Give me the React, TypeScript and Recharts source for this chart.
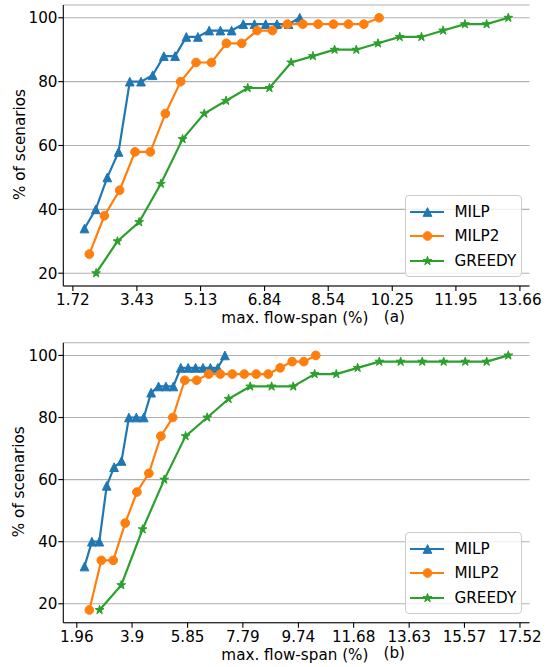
import React from "react";
import {
  LineChart,
  Line,
  XAxis,
  YAxis,
  CartesianGrid,
  Legend,
} from "recharts";

// panel (a)
const milpAx = [2.03, 2.33, 2.64, 2.94, 3.24, 3.54, 3.85, 4.15, 4.45, 4.75, 5.06, 5.36, 5.66, 5.96, 6.27, 6.57, 6.87, 7.17, 7.48, 7.78];
const milpAy = [34, 40, 50, 58, 80, 80, 82, 88, 88, 94, 94, 96, 96, 96, 98, 98, 98, 98, 98, 100];
const milp2Ax = [2.16, 2.56, 2.97, 3.38, 3.79, 4.19, 4.6, 5.01, 5.42, 5.82, 6.23, 6.64, 7.05, 7.45, 7.86, 8.27, 8.68, 9.08, 9.49, 9.9];
const milp2Ay = [26, 38, 46, 58, 58, 70, 80, 86, 86, 92, 92, 96, 96, 98, 98, 98, 98, 98, 98, 100];
const greedyAx = [2.34, 2.91, 3.49, 4.07, 4.65, 5.23, 5.81, 6.39, 6.97, 7.55, 8.13, 8.71, 9.29, 9.87, 10.45, 11.03, 11.61, 12.19, 12.77, 13.35];
const greedyAy = [20, 30, 36, 48, 62, 70, 74, 78, 78, 86, 88, 90, 90, 92, 94, 94, 96, 98, 98, 100];
const ticksA = [1.72, 3.43, 5.13, 6.84, 8.54, 10.25, 11.95, 13.66];

// panel (b)
const milpBx = [2.23, 2.49, 2.75, 3.01, 3.27, 3.53, 3.79, 4.05, 4.31, 4.57, 4.83, 5.09, 5.35, 5.61, 5.87, 6.13, 6.39, 6.65, 6.91, 7.16];
const milpBy = [32, 40, 40, 58, 64, 66, 80, 80, 80, 88, 90, 90, 90, 96, 96, 96, 96, 96, 96, 100];
const milp2Bx = [2.4, 2.82, 3.24, 3.66, 4.07, 4.49, 4.91, 5.33, 5.75, 6.17, 6.59, 7.0, 7.42, 7.84, 8.26, 8.68, 9.1, 9.52, 9.93, 10.35];
const milp2By = [18, 34, 34, 46, 56, 62, 74, 80, 92, 92, 94, 94, 94, 94, 94, 94, 96, 98, 98, 100];
const greedyBx = [2.76, 3.52, 4.27, 5.03, 5.78, 6.54, 7.29, 8.05, 8.8, 9.56, 10.31, 11.07, 11.82, 12.58, 13.33, 14.09, 14.84, 15.6, 16.35, 17.11];
const greedyBy = [18, 26, 44, 60, 74, 80, 86, 90, 90, 90, 94, 94, 96, 98, 98, 98, 98, 98, 98, 100];
const ticksB = [1.96, 3.9, 5.85, 7.79, 9.74, 11.68, 13.63, 15.57, 17.52];

const yTicks = [20, 40, 60, 80, 100];

const BLUE = "#1f77b4";
const ORANGE = "#ff7f0e";
const GREEN = "#2ca02c";
const FONT = "DejaVu Sans";
const FS = 15.2;
const M = 4.35; // marker half size

const pts = (xs: number[], ys: number[]) => xs.map((x, i) => ({ x, y: ys[i] }));

function markerShape(kind: string, cx: number, cy: number, color: string, key?: any) {
  if (kind === "tri") {
    return (
      <polygon key={key} points={`${cx},${cy - M} ${cx - M},${cy + M} ${cx + M},${cy + M}`}
        fill={color} stroke={color} strokeWidth={1} strokeLinejoin="miter" />
    );
  }
  if (kind === "circle") {
    return <circle key={key} cx={cx} cy={cy} r={M} fill={color} stroke={color} strokeWidth={1} />;
  }
  const p: string[] = [];
  for (let k = 0; k < 10; k++) {
    const r = k % 2 === 0 ? M + 0.3 : (M + 0.3) * 0.381966;
    const a = -Math.PI / 2 + (k * Math.PI) / 5;
    p.push(`${cx + r * Math.cos(a)},${cy + r * Math.sin(a)}`);
  }
  return <polygon key={key} points={p.join(" ")} fill={color} stroke={color} strokeWidth={1} strokeLinejoin="miter" />;
}

const makeDot = (kind: string, color: string) => (props: any) => {
  const { cx, cy, index } = props;
  if (cx == null || cy == null) return <g key={`d${index}`} />;
  return markerShape(kind, cx, cy, color, `d${index}`);
};

const SERIES = [
  { name: "MILP", color: BLUE, kind: "tri" },
  { name: "MILP2", color: ORANGE, kind: "circle" },
  { name: "GREEDY", color: GREEN, kind: "star" },
];

const LegendBox = () => (
  <div
    style={{
      boxSizing: "border-box",
      width: 117,
      height: 82,
      border: "1px solid #cccccc",
      borderRadius: 4,
      background: "rgba(255,255,255,0.8)",
      position: "relative",
      fontFamily: FONT,
    }}
  >
    {SERIES.map((s, i) => (
      <div key={s.name}
        style={{ position: "absolute", left: 0, top: 15.5 + i * 24.5 - 12, height: 24, display: "flex", alignItems: "center" }}>
        <svg width={48.5} height={24} style={{ display: "block" }}>
          <line x1={4} x2={38} y1={12} y2={12} stroke={s.color} strokeWidth={2.2} />
          {markerShape(s.kind, 21.5, 12, s.color)}
        </svg>
        <span style={{ fontSize: FS, lineHeight: "24px", color: "#000" }}>{s.name}</span>
      </div>
    ))}
  </div>
);

function Panel(props: {
  top: number;
  height: number;
  marginTop: number;
  marginBottom: number;
  tag: string;
  xDomain: number[];
  yDomain: number[];
  xTicks: number[];
  milp: { x: number; y: number }[];
  milp2: { x: number; y: number }[];
  greedy: { x: number; y: number }[];
}) {
  const XLabel = (lp: any) => {
    const vb = lp.viewBox || {};
    const cx = vb.x + vb.width / 2 - 1.5;
    return (
      <g>
        <text x={cx} y={vb.y + 37.3} textAnchor="middle" fontSize={FS} fontFamily={FONT} fill="#000">
          max. flow-span (%)
        </text>
        <text x={vb.x + 331} y={vb.y + 35.5} textAnchor="middle" fontSize={FS} fontFamily={FONT} fill="#000">
          {props.tag}
        </text>
      </g>
    );
  };
  const YLabel = (lp: any) => {
    const vb = lp.viewBox || {};
    const cy = vb.y + vb.height / 2 - 1;
    return (
      <text x={24.5} y={cy} transform={`rotate(-90, 24.5, ${cy})`} textAnchor="middle" fontSize={FS} fontFamily={FONT} fill="#000">
        % of scenarios
      </text>
    );
  };
  const tickStyle = { fontSize: FS, fill: "#000", fontFamily: FONT };
  return (
    <div style={{ position: "absolute", left: 0, top: props.top, width: 547, height: props.height }}>
      <LineChart
        width={547}
        height={props.height}
        margin={{ top: props.marginTop, right: 17.5, left: 0, bottom: props.marginBottom }}
        style={{ fontFamily: FONT }}
      >
        <CartesianGrid vertical={false} stroke="#b0b0b0" strokeWidth={1.1} />
        <XAxis
          type="number"
          dataKey="x"
          domain={props.xDomain}
          allowDataOverflow
          ticks={props.xTicks}
          interval={0}
          height={40}
          tick={tickStyle}
          tickSize={5}
          tickMargin={3.4}
          stroke="#000"
          axisLine={{ stroke: "#000", strokeWidth: 1.1 }}
          tickLine={{ stroke: "#000", strokeWidth: 1.1 }}
          label={<XLabel />}
        />
        <XAxis xAxisId="top" orientation="top" type="number" domain={props.xDomain} allowDataOverflow
          height={0} tick={false} tickLine={false} axisLine={{ stroke: "#000", strokeWidth: 1.1 }} />
        <YAxis
          type="number"
          domain={props.yDomain}
          allowDataOverflow
          ticks={yTicks}
          interval={0}
          width={63.3}
          tick={tickStyle}
          tickSize={5}
          tickMargin={0.8}
          axisLine={{ stroke: "#000", strokeWidth: 1.1 }}
          tickLine={{ stroke: "#000", strokeWidth: 1.1 }}
          label={<YLabel />}
        />
        <YAxis yAxisId="right" orientation="right" type="number" domain={props.yDomain} allowDataOverflow
          width={0} tick={false} tickLine={false} axisLine={{ stroke: "#000", strokeWidth: 1.1 }} />
        <Line data={props.milp} dataKey="y" name="MILP" stroke={BLUE} strokeWidth={2.2}
          dot={makeDot("tri", BLUE)} activeDot={false} isAnimationActive={false} />
        <Line data={props.milp2} dataKey="y" name="MILP2" stroke={ORANGE} strokeWidth={2.2}
          dot={makeDot("circle", ORANGE)} activeDot={false} isAnimationActive={false} />
        <Line data={props.greedy} dataKey="y" name="GREEDY" stroke={GREEN} strokeWidth={2.2}
          dot={makeDot("star", GREEN)} activeDot={false} isAnimationActive={false} />
        <Legend
          layout="vertical"
          align="center"
          verticalAlign="middle"
          content={() => <LegendBox />}
          wrapperStyle={{ left: 405, top: 195, width: 117, height: 82 }}
        />
      </LineChart>
    </div>
  );
}

export default function App() {
  return (
    <div style={{ position: "absolute", left: 0, top: 0, width: 547, height: 667, background: "#fff", overflow: "hidden", fontFamily: FONT }}>
      <Panel
        top={0}
        height={335}
        marginTop={5}
        marginBottom={9}
        tag="(a)"
        xDomain={[1.464, 13.916]}
        yDomain={[16, 104]}
        xTicks={ticksA}
        milp={pts(milpAx, milpAy)}
        milp2={pts(milp2Ax, milp2Ay)}
        greedy={pts(greedyAx, greedyAy)}
      />
      <Panel
        top={337}
        height={330}
        marginTop={5.7}
        marginBottom={4.3}
        tag="(b)"
        xDomain={[1.486, 17.854]}
        yDomain={[13.9, 104.1]}
        xTicks={ticksB}
        milp={pts(milpBx, milpBy)}
        milp2={pts(milp2Bx, milp2By)}
        greedy={pts(greedyBx, greedyBy)}
      />
    </div>
  );
}
